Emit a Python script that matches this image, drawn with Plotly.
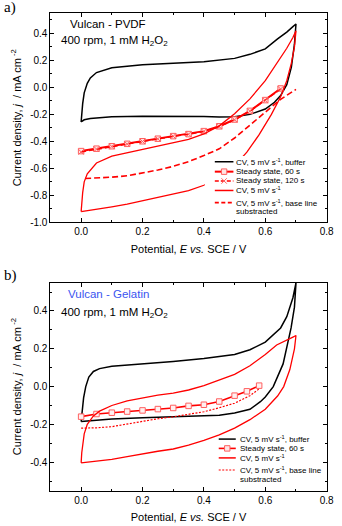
import plotly.graph_objects as go

# ---------------- Panel a data (Vulcan - PVDF) ----------------
E_a_buffer = [0.0, 0.01, 0.03, 0.05, 0.1, 0.2, 0.3, 0.4, 0.45, 0.5, 0.55, 0.6, 0.63, 0.65, 0.67, 0.685, 0.695, 0.7,
              0.69, 0.67, 0.64, 0.6, 0.55, 0.5, 0.4, 0.3, 0.2, 0.1, 0.05, 0.03, 0.02, 0.01, 0.005, 0.0]
j_a_buffer = [-0.256, -0.24, -0.23, -0.225, -0.218, -0.213, -0.212, -0.216, -0.22, -0.218, -0.2, -0.16, -0.11, -0.06, 0.02, 0.15, 0.32, 0.47,
              0.45, 0.41, 0.36, 0.285, 0.245, 0.215, 0.19, 0.178, 0.168, 0.145, 0.11, 0.07, 0.03, -0.04, -0.12, -0.256]

E_a_ss = [0.0, 0.05, 0.1, 0.15, 0.2, 0.25, 0.3, 0.35, 0.4, 0.45, 0.5, 0.55, 0.6, 0.65]
j_a_ss60 = [-0.472, -0.454, -0.436, -0.418, -0.399, -0.38, -0.361, -0.346, -0.324, -0.288, -0.238, -0.174, -0.094, -0.008]
j_a_ss120 = [-0.478, -0.457, -0.438, -0.42, -0.401, -0.381, -0.362, -0.347, -0.326, -0.29, -0.24, -0.176, -0.097, -0.012]

E_a_cv = [0.0, 0.05, 0.1, 0.15, 0.2, 0.25, 0.3, 0.35, 0.4, 0.45, 0.5, 0.54, 0.58, 0.62, 0.65, 0.67, 0.685, 0.695, 0.7,
          0.69, 0.67, 0.65, 0.6, 0.55, 0.5, 0.45, 0.4, 0.35, 0.3, 0.2, 0.1, 0.05, 0.02, 0.01, 0.005, 0.0]
j_a_cv = [-0.92, -0.905, -0.885, -0.865, -0.84, -0.815, -0.795, -0.765, -0.725, -0.66, -0.58, -0.48, -0.35, -0.2, -0.07, 0.05, 0.18, 0.3, 0.42,
          0.37, 0.29, 0.22, 0.05, -0.085, -0.195, -0.285, -0.345, -0.385, -0.41, -0.455, -0.51, -0.56, -0.64, -0.7, -0.78, -0.92]

E_a_base = [0.013, 0.05, 0.1, 0.15, 0.2, 0.25, 0.3, 0.35, 0.4, 0.45, 0.5, 0.55, 0.6, 0.65, 0.7]
j_a_base = [-0.675, -0.673, -0.665, -0.655, -0.635, -0.612, -0.585, -0.55, -0.505, -0.455, -0.375, -0.28, -0.178, -0.088, -0.015]

# ---------------- Panel b data (Vulcan - Gelatin) ----------------
E_b_buffer = [0.0, 0.05, 0.1, 0.2, 0.3, 0.4, 0.45, 0.5, 0.55, 0.584, 0.6, 0.626, 0.658, 0.684, 0.695, 0.7,
              0.69, 0.67, 0.65, 0.6, 0.55, 0.5, 0.4, 0.3, 0.2, 0.1, 0.06, 0.04, 0.025, 0.015, 0.008, 0.003, 0.0]
j_b_buffer = [-0.185, -0.178, -0.172, -0.165, -0.16, -0.157, -0.152, -0.14, -0.12, -0.08, -0.055, 0.0, 0.12, 0.31, 0.42, 0.548,
              0.47, 0.37, 0.31, 0.235, 0.195, 0.17, 0.148, 0.133, 0.122, 0.108, 0.095, 0.08, 0.05, 0.0, -0.06, -0.12, -0.185]

E_b_ss = [0.0, 0.05, 0.1, 0.15, 0.2, 0.25, 0.3, 0.35, 0.4, 0.45, 0.5, 0.54, 0.58]
j_b_ss60 = [-0.159, -0.145, -0.138, -0.132, -0.126, -0.119, -0.113, -0.102, -0.096, -0.079, -0.048, -0.025, 0.005]

E_b_cv = [0.0, 0.05, 0.1, 0.15, 0.2, 0.25, 0.3, 0.35, 0.4, 0.45, 0.5, 0.55, 0.6, 0.64, 0.66, 0.68, 0.695, 0.7,
          0.69, 0.67, 0.637, 0.6, 0.55, 0.5, 0.45, 0.4, 0.35, 0.3, 0.25, 0.2, 0.15, 0.1, 0.06, 0.04, 0.02, 0.01, 0.005, 0.002, 0.0]
j_b_cv = [-0.403, -0.395, -0.385, -0.37, -0.355, -0.342, -0.33, -0.31, -0.285, -0.255, -0.22, -0.175, -0.12, -0.05, 0.0, 0.09, 0.2, 0.27,
          0.262, 0.245, 0.22, 0.17, 0.11, 0.065, 0.035, 0.005, -0.018, -0.035, -0.045, -0.06, -0.075, -0.1, -0.13, -0.155, -0.2, -0.25, -0.3, -0.35, -0.403]

E_b_base = [0.0, 0.05, 0.1, 0.15, 0.2, 0.25, 0.3, 0.35, 0.4, 0.45, 0.5, 0.55, 0.58]
j_b_base = [-0.22, -0.218, -0.212, -0.198, -0.18, -0.17, -0.16, -0.148, -0.133, -0.112, -0.088, -0.048, -0.012]

# tick labels
x_tickvals = [0.0, 0.2, 0.4, 0.6, 0.8]
x_ticktext = ["0.0", "0.2", "0.4", "0.6", "0.8"]
ya_tickvals = [-1.0, -0.8, -0.6, -0.4, -0.2, 0.0, 0.2, 0.4]
ya_ticktext = ["-1.0", "-0.8", "-0.6", "-0.4", "-0.2", "0.0", "0.2", "0.4"]
yb_tickvals = [-0.4, -0.2, 0.0, 0.2, 0.4]
yb_ticktext = ["-0.4", "-0.2", "0.0", "0.2", "0.4"]

# legend labels
legend_a_labels = ["CV, 5 mV s<sup>-1</sup>, buffer", "Steady state, 60 s", "Steady state, 120 s",
                   "CV, 5 mV s<sup>-1</sup>", "CV, 5 mV s<sup>-1</sup>, base line", "substracted"]
legend_b_labels = ["CV, 5 mV s<sup>-1</sup>, buffer", "Steady state, 60 s",
                   "CV, 5 mV s<sup>-1</sup>", "CV, 5 mV s<sup>-1</sup>, base line", "substracted"]

RED = "#ff0000"
MK = "#ff6060"
FONT = "Liberation Sans, Arial, sans-serif"
W, H = 342, 526

fig = go.Figure()

# panel a traces
fig.add_trace(go.Scatter(x=E_a_buffer, y=j_a_buffer, mode="lines", line=dict(color="black", width=1.5),
                         xaxis="x", yaxis="y"))
fig.add_trace(go.Scatter(x=E_a_ss, y=j_a_ss60, mode="lines+markers", line=dict(color=RED, width=2),
                         marker=dict(symbol="square", size=5.5, color="#ffe4e4", line=dict(color=MK, width=1)),
                         xaxis="x", yaxis="y"))
fig.add_trace(go.Scatter(x=E_a_ss, y=j_a_ss120, mode="lines+markers", line=dict(color=RED, width=1.5, dash="5px,3px"),
                         marker=dict(symbol="x-thin", size=5.5, color=MK, line=dict(color=MK, width=1)),
                         xaxis="x", yaxis="y"))
fig.add_trace(go.Scatter(x=E_a_cv, y=j_a_cv, mode="lines", line=dict(color=RED, width=1.3),
                         xaxis="x", yaxis="y"))
fig.add_trace(go.Scatter(x=E_a_base, y=j_a_base, mode="lines", line=dict(color=RED, width=1.6, dash="6px,3px"),
                         xaxis="x", yaxis="y"))

# panel b traces
fig.add_trace(go.Scatter(x=E_b_buffer, y=j_b_buffer, mode="lines", line=dict(color="black", width=1.5),
                         xaxis="x2", yaxis="y2"))
fig.add_trace(go.Scatter(x=E_b_ss, y=j_b_ss60, mode="lines+markers", line=dict(color=RED, width=1.6),
                         marker=dict(symbol="square", size=5.5, color="#fff0f0", line=dict(color=MK, width=1)),
                         xaxis="x2", yaxis="y2"))
fig.add_trace(go.Scatter(x=E_b_cv, y=j_b_cv, mode="lines", line=dict(color=RED, width=1.3),
                         xaxis="x2", yaxis="y2"))
fig.add_trace(go.Scatter(x=E_b_base, y=j_b_base, mode="lines", line=dict(color=RED, width=1.2, dash="2px,1.5px"),
                         xaxis="x2", yaxis="y2"))

xdom = [51.5 / W, 333.5 / W]
ya_dom = [1 - 224.5 / H, 1 - 13.3 / H]
yb_dom = [1 - 495.3 / H, 1 - 285.3 / H]


def axis(**kw):
    d = dict(showline=True, linecolor="black", linewidth=1, mirror="ticks", ticks="inside", ticklen=4,
             tickcolor="black", tickwidth=1, showgrid=False, zeroline=False,
             tickfont=dict(family=FONT, size=10, color="black"),
             minor=dict(ticks="inside", ticklen=2, tickcolor="black", tickwidth=1, dtick=0.1, tick0=0))
    d.update(kw)
    return d


xtitle = dict(text="Potential, <i>E vs.</i> SCE / V", font=dict(family=FONT, size=11, color="black"), standoff=8)
ytitle = dict(text="Current density, <i>j</i>  / mA cm<sup> -2</sup>", font=dict(family=FONT, size=11, color="black"), standoff=6)

# ---------- manual compact legends (decoration) ----------
shapes = []
annotations = []


def px(x):
    return x / W


def py(y):
    return 1 - y / H


def sample_line(x0, x1, y, color, width, dash="solid"):
    shapes.append(dict(type="line", xref="paper", yref="paper", x0=px(x0), x1=px(x1), y0=py(y), y1=py(y),
                       line=dict(color=color, width=width, dash=dash), layer="above"))


def sample_square(xc, y, s=5.5):
    shapes.append(dict(type="rect", xref="paper", yref="paper", x0=px(xc - s / 2), x1=px(xc + s / 2),
                       y0=py(y + s / 2), y1=py(y - s / 2), fillcolor="#ffe4e4",
                       line=dict(color=MK, width=1), layer="above"))


def sample_x(xc, y, s=5.5):
    h = s / 2
    for a, b in [((-h, -h), (h, h)), ((-h, h), (h, -h))]:
        shapes.append(dict(type="line", xref="paper", yref="paper", x0=px(xc + a[0]), x1=px(xc + b[0]),
                           y0=py(y + a[1]), y1=py(y + b[1]), line=dict(color=MK, width=1), layer="above"))


def legend_text(x, y, text):
    annotations.append(dict(text=text, x=px(x), y=py(y), xref="paper", yref="paper", xanchor="left",
                            yanchor="middle", showarrow=False, borderpad=0,
                            font=dict(family=FONT, size=8, color="black")))


# white background of legend a (hides curves behind it)
shapes.append(dict(type="rect", xref="paper", yref="paper", x0=px(209), x1=px(328.5), y0=py(219.5), y1=py(157.5),
                   fillcolor="white", line=dict(width=0), layer="above"))

la_rows = [163.3, 173.3, 182.7, 192.3, 204.5, 214]
lx0, lx1, ltx = 219.3, 238.3, 239.5
sample_line(lx0, lx1, la_rows[0], "black", 1.5)
sample_line(lx0, lx1, la_rows[1], RED, 2)
sample_square((lx0 + lx1) / 2, la_rows[1])
sample_line(lx0, lx1, la_rows[2], RED, 1.5, "4px,2px")
sample_x((lx0 + lx1) / 2, la_rows[2])
sample_line(lx0, lx1, la_rows[3], RED, 1.5)
sample_line(lx0, lx1, la_rows[4], RED, 1.8, "4px,2.5px")
for r, t in zip(la_rows, legend_a_labels):
    legend_text(ltx, r, t)

lb_rows = [443.3, 452.7, 462.3, 474.5, 484]
bx0, bx1, btx = 223.3, 240.7, 243.5
sample_line(bx0, bx1, lb_rows[0], "black", 1.5)
sample_line(bx0, bx1, lb_rows[1], RED, 1.6)
sample_square((bx0 + bx1) / 2, lb_rows[1])
sample_line(bx0, bx1, lb_rows[2], RED, 1.5)
sample_line(bx0, bx1, lb_rows[3], RED, 1.2, "2px,1.5px")
for r, t in zip(lb_rows, legend_b_labels):
    legend_text(btx, r, t)

# panel labels and in-plot texts
annotations += [
    dict(text="a)", x=px(2), y=py(8), xref="paper", yref="paper", xanchor="left", yanchor="middle",
         showarrow=False, font=dict(family="Liberation Serif, Times New Roman, serif", size=15, color="black")),
    dict(text="b)", x=px(2), y=py(278), xref="paper", yref="paper", xanchor="left", yanchor="middle",
         showarrow=False, font=dict(family="Liberation Serif, Times New Roman, serif", size=15, color="black")),
    dict(text="Vulcan - PVDF", x=px(69), y=py(24.5), xref="paper", yref="paper", xanchor="left", yanchor="middle",
         showarrow=False, font=dict(family=FONT, size=11.5, color="black")),
    dict(text="400 rpm, 1 mM H<sub>2</sub>O<sub>2</sub>", x=px(60.5), y=py(41), xref="paper", yref="paper",
         xanchor="left", yanchor="middle", showarrow=False, font=dict(family=FONT, size=11.5, color="black")),
    dict(text="Vulcan - Gelatin", x=px(67.5), y=py(297), xref="paper", yref="paper", xanchor="left", yanchor="middle",
         showarrow=False, font=dict(family=FONT, size=11.5, color="#3a55f0")),
    dict(text="400 rpm, 1 mM H<sub>2</sub>O<sub>2</sub>", x=px(60.5), y=py(316), xref="paper", yref="paper",
         xanchor="left", yanchor="middle", showarrow=False, font=dict(family=FONT, size=11.5, color="black")),
]

fig.update_layout(
    width=W, height=H, autosize=False,
    margin=dict(l=0, r=0, t=0, b=0),
    paper_bgcolor="white", plot_bgcolor="white",
    showlegend=False,
    xaxis=axis(domain=xdom, anchor="y", range=[-0.1, 0.8], tickvals=x_tickvals, ticktext=x_ticktext, title=xtitle),
    yaxis=axis(domain=ya_dom, anchor="x", range=[-1.0, 0.55], tickvals=ya_tickvals, ticktext=ya_ticktext, title=ytitle),
    xaxis2=axis(domain=xdom, anchor="y2", range=[-0.1, 0.8], tickvals=x_tickvals, ticktext=x_ticktext, title=xtitle),
    yaxis2=axis(domain=yb_dom, anchor="x2", range=[-0.55, 0.55], tickvals=yb_tickvals, ticktext=yb_ticktext, title=ytitle),
    shapes=shapes,
    annotations=annotations,
)

fig.write_html("out.html", config={"displayModeBar": False, "staticPlot": True},
               post_script="document.body.style.margin='0px';document.body.style.overflow='hidden';")
